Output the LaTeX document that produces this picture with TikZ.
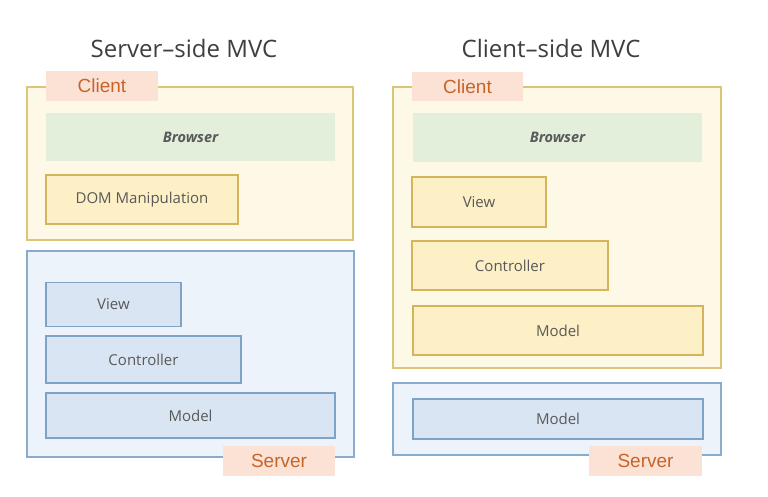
\documentclass[tikz,border=0pt]{standalone}
\usepackage{fontspec}
\setmainfont{Open Sans}
\newfontfamily\arialf{Liberation Sans}
\definecolor{cliFill}{HTML}{FEF9E7}
\definecolor{cliDraw}{HTML}{D9C677}
\definecolor{yelFill}{HTML}{FDEFC6}
\definecolor{yelDraw}{HTML}{D6B55A}
\definecolor{srvFill}{HTML}{EDF3FA}
\definecolor{srvDraw}{HTML}{8AACCB}
\definecolor{bluFill}{HTML}{DAE5F4}
\definecolor{bluDraw}{HTML}{7FA2C7}
\definecolor{grnFill}{HTML}{E3EFDA}
\definecolor{tabFill}{HTML}{FBE2D4}
\definecolor{tabText}{HTML}{C8642A}
\definecolor{txt}{HTML}{595959}
\definecolor{ttl}{HTML}{3F3F3F}
\tikzset{
  base/.style={rectangle, inner sep=0pt, text=txt, font=\fontsize{15}{18}\selectfont},
  clientbox/.style={base, fill=cliFill, draw=cliDraw, line width=1.1pt},
  serverbox/.style={base, fill=srvFill, draw=srvDraw, line width=1.1pt},
  yelbox/.style={base, fill=yelFill, draw=yelDraw, line width=1.1pt},
  blubox/.style={base, fill=bluFill, draw=bluDraw, line width=1.1pt},
  browserbox/.style={base, fill=grnFill, font=\fontsize{14.5}{17}\selectfont\bfseries\itshape},
  tabbox/.style={base, fill=tabFill, text=tabText, font=\arialf\fontsize{19}{22}\selectfont},
  titletext/.style={inner sep=0pt, text=ttl, font=\fontsize{24}{28}\selectfont}
}
\begin{document}
\begin{tikzpicture}[x=1pt,y=-1pt]
\useasboundingbox[fill=white] (0,0) rectangle (768,496);
% titles
\node[titletext, anchor=base] (titleL) at (184,57) {Server–side MVC};
\node[titletext, anchor=base] (titleR) at (551,57) {Client–side MVC};
% left: client
\node[clientbox, minimum width=326, minimum height=153] (clientL) at (190,163.5) {};
\node[tabbox, minimum width=112, minimum height=30] (tabL) at (102,86) {Client};
\node[browserbox, minimum width=289, minimum height=48] (browserL) at (190.5,137) {Browser};
\node[yelbox, minimum width=192, minimum height=49] (domL) at (142,199.5) {DOM Manipulation};
% left: server
\node[serverbox, minimum width=327, minimum height=206] (serverL) at (190.5,354) {};
\node[blubox, minimum width=135, minimum height=44] (viewL) at (113.5,304.5) {View};
\node[blubox, minimum width=195, minimum height=47] (ctrlL) at (143.5,359.5) {Controller};
\node[blubox, minimum width=289, minimum height=45] (modelL) at (190.5,415.5) {Model};
\node[tabbox, minimum width=112, minimum height=30] (srvtabL) at (279,461) {Server};
% right: client
\node[clientbox, minimum width=328, minimum height=281] (clientR) at (557,227.5) {};
\node[tabbox, minimum width=111, minimum height=29] (tabR) at (467.5,86.5) {Client};
\node[browserbox, minimum width=289, minimum height=49] (browserR) at (557.5,137.5) {Browser};
\node[yelbox, minimum width=134, minimum height=50] (viewR) at (479,202) {View};
\node[yelbox, minimum width=196, minimum height=49] (ctrlR) at (510,265.5) {Controller};
\node[yelbox, minimum width=290, minimum height=49] (modelR) at (558,330.5) {Model};
% right: server
\node[serverbox, minimum width=328, minimum height=72] (serverR) at (557,419) {};
\node[blubox, minimum width=290, minimum height=40] (smodelR) at (558,419) {Model};
\node[tabbox, minimum width=113, minimum height=30] (srvtabR) at (645.5,461) {Server};
\end{tikzpicture}
\end{document}
